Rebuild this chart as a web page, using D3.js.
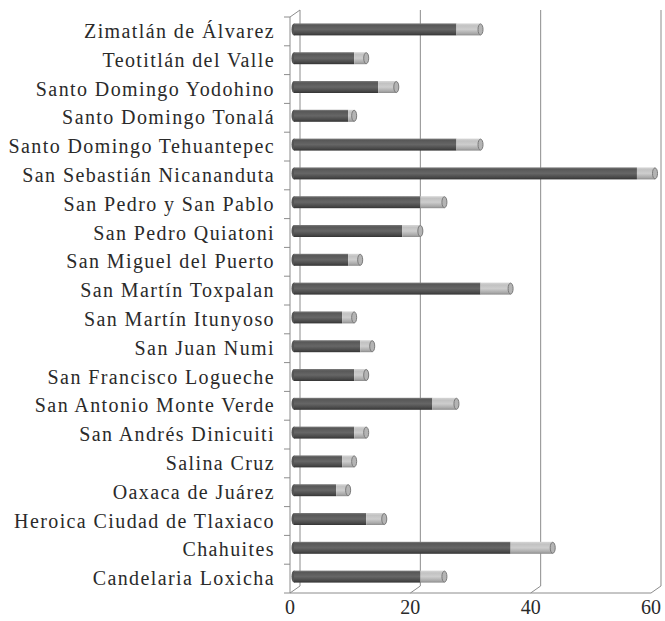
<!DOCTYPE html>
<html>
<head>
<meta charset="utf-8">
<script src="https://cdn.jsdelivr.net/npm/d3@7"></script>
<style>
  body { margin: 0; background: #fff; }
  svg { display: block; }
</style>
</head>
<body>
<svg id="chart"></svg>
<script>
// categories top to bottom, as shown
const categories = [
  'Zimatlán de Álvarez', 'Teotitlán del Valle', 'Santo Domingo Yodohino',
  'Santo Domingo Tonalá', 'Santo Domingo Tehuantepec', 'San Sebastián Nicananduta',
  'San Pedro y San Pablo', 'San Pedro Quiatoni', 'San Miguel del Puerto',
  'San Martín Toxpalan', 'San Martín Itunyoso', 'San Juan Numi',
  'San Francisco Logueche', 'San Antonio Monte Verde', 'San Andrés Dinicuiti',
  'Salina Cruz', 'Oaxaca de Juárez', 'Heroica Ciudad de Tlaxiaco',
  'Chahuites', 'Candelaria Loxicha'
]
const darkValues  = [27, 10, 14, 9, 27, 57, 21, 18, 9, 31, 8, 11, 10, 23, 10, 8, 7, 12, 36, 21]
const lightValues = [4, 2, 3, 1, 4, 3, 4, 3, 2, 5, 2, 2, 2, 4, 2, 2, 2, 3, 7, 4]
const xTicks = [0, 20, 40, 60]

const width = 665
const height = 621

// front plane of the 3d plot, back wall is shifted by depth
const front = {left: 290, top: 17, bottom: 593}
const depth = {dx: 10, dy: -7}
const barShift = {dx: 4, dy: -2}
const barH = 12

const x = d3.scaleLinear().domain([0, 60]).range([front.left, 651])
const y = d3.scaleBand().domain(categories).range([front.top, front.bottom])

const data = categories.map(function(c, i) {
  return {name: c, dark: darkValues[i], light: lightValues[i]}
})

const svg = d3.select('#chart').attr('width', width).attr('height', height)

const defs = svg.append('defs')
function gradient(id, stops) {
  defs.append('linearGradient')
      .attr('id', id)
      .attr('x1', 0).attr('y1', 0).attr('x2', 0).attr('y2', 1)
    .selectAll('stop')
    .data(stops)
    .join('stop')
      .attr('offset', d => d[0])
      .attr('stop-color', d => d[1])
}
gradient('g-dark', [[0, '#7e7e7e'], [0.15, '#585858'], [0.5, '#666666'], [0.85, '#474747'], [1, '#333333']])
gradient('g-light', [[0, '#d6d6d6'], [0.2, '#c2c2c2'], [0.5, '#cdcdcd'], [0.85, '#a8a8a8'], [1, '#8a8a8a']])

const gridColor = '#8c8c8c'

// back wall gridlines and floor
const walls = svg.append('g').attr('stroke', gridColor).attr('fill', 'none').attr('stroke-width', 1)
walls.selectAll('line.grid')
  .data(xTicks)
  .join('line')
    .attr('class', 'grid')
    .attr('x1', d => x(d) + depth.dx).attr('x2', d => x(d) + depth.dx)
    .attr('y1', front.top + depth.dy).attr('y2', front.bottom + depth.dy)
walls.selectAll('line.floor')
  .data(xTicks)
  .join('line')
    .attr('class', 'floor')
    .attr('x1', d => x(d) + depth.dx).attr('y1', front.bottom + depth.dy)
    .attr('x2', d => x(d)).attr('y2', front.bottom)
walls.append('line')
  .attr('x1', x(0)).attr('x2', x(60))
  .attr('y1', front.bottom).attr('y2', front.bottom)
// top left corner
walls.append('line')
  .attr('x1', x(0)).attr('y1', front.top)
  .attr('x2', x(0) + depth.dx).attr('y2', front.top + depth.dy)

// front left axis with category ticks
const tickYs = categories.map(c => y(c))
tickYs.push(front.bottom)
const axis = svg.append('g').attr('stroke', gridColor).attr('stroke-width', 1)
axis.append('line')
  .attr('x1', x(0)).attr('x2', x(0))
  .attr('y1', front.top).attr('y2', front.bottom)
axis.selectAll('line.tick')
  .data(tickYs)
  .join('line')
    .attr('class', 'tick')
    .attr('x1', x(0) - 6).attr('x2', x(0))
    .attr('y1', d => d).attr('y2', d => d)

// bars
const bars = svg.append('g')
  .selectAll('g')
  .data(data)
  .join('g')
    .attr('transform', function(d) {
      const ty = y(d.name) + y.bandwidth() / 2 - barH / 2 + barShift.dy
      return 'translate(' + barShift.dx + ',' + ty + ')'
    })

bars.append('ellipse')
  .attr('cx', x(0)).attr('cy', barH / 2)
  .attr('rx', 2.5).attr('ry', barH / 2)
  .attr('fill', '#555555')
bars.append('rect')
  .attr('x', x(0))
  .attr('width', d => x(d.dark) - x(0))
  .attr('height', barH)
  .attr('fill', 'url(#g-dark)')
bars.append('rect')
  .attr('x', d => x(d.dark))
  .attr('width', d => x(d.dark + d.light) - x(d.dark))
  .attr('height', barH)
  .attr('fill', 'url(#g-light)')
bars.append('ellipse')
  .attr('cx', d => x(d.dark + d.light)).attr('cy', barH / 2)
  .attr('rx', 2.5).attr('ry', barH / 2 - 0.5)
  .attr('fill', '#b4b4b4')
  .attr('stroke', '#7a7a7a')
  .attr('stroke-width', 1)

// category labels
const font = 'Liberation Serif, serif'
svg.append('g')
  .selectAll('text')
  .data(categories)
  .join('text')
    .attr('x', 275)
    .attr('y', d => y(d) + y.bandwidth() / 2)
    .attr('dy', '0.33em')
    .attr('text-anchor', 'end')
    .attr('font-family', font)
    .attr('font-size', 20)
    .attr('letter-spacing', 1.4)
    .attr('fill', '#2a2a2a')
    .text(d => d)

// value labels
svg.append('g')
  .selectAll('text')
  .data(xTicks)
  .join('text')
    .attr('x', d => x(d))
    .attr('y', 614)
    .attr('text-anchor', 'middle')
    .attr('font-family', font)
    .attr('font-size', 20)
    .attr('fill', '#2a2a2a')
    .text(d => d)
</script>
</body>
</html>
